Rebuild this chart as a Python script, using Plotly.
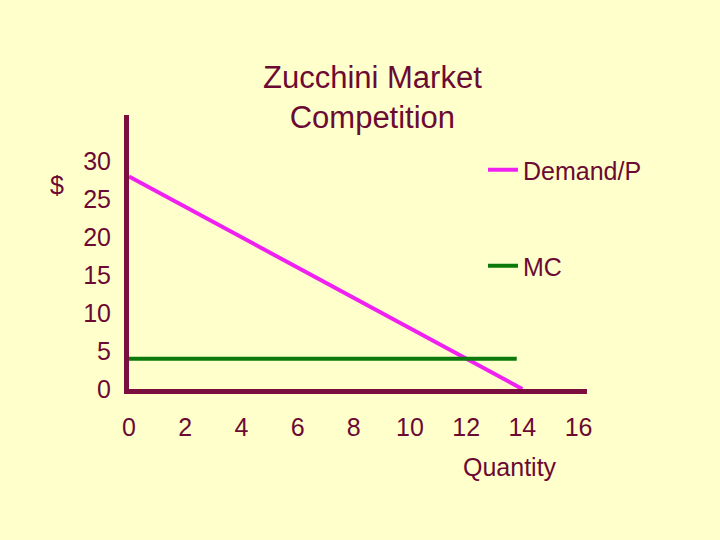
import plotly.graph_objects as go

demand_q = [0, 14]
demand_p = [28, 0]
mc_q = [0, 13.8]
mc_p = [4, 4]
x_ticks = [0, 2, 4, 6, 8, 10, 12, 14, 16]
y_ticks = [0, 5, 10, 15, 20, 25, 30]

TXT = "#6B0A33"
AX = "#7A0E3E"
BG = "#FFFFCC"
FONT = "Liberation Sans, Arial, sans-serif"

L, T, W, H = 129, 115, 458, 274


def px(x):
    return (x - L) / W


def py(y):
    return 1 - (y - T) / H


fig = go.Figure()
fig.add_trace(go.Scatter(x=demand_q, y=demand_p, mode="lines", name="Demand/P",
                         line=dict(color="#F020F0", width=4), legend="legend"))
fig.add_trace(go.Scatter(x=mc_q, y=mc_p, mode="lines", name="MC",
                         line=dict(color="#0B7A0B", width=4), legend="legend2"))

leg = dict(xref="paper", yref="paper", xanchor="left", yanchor="middle",
           bgcolor="rgba(0,0,0,0)", font=dict(family=FONT, size=25, color=TXT))
fig.update_layout(
    width=720, height=540, autosize=False,
    paper_bgcolor=BG, plot_bgcolor=BG,
    margin=dict(l=L, r=720 - L - W, t=T, b=540 - T - H, autoexpand=False),
    font=dict(family=FONT, size=25, color=TXT),
    showlegend=True,
    legend=dict(x=px(483), y=py(170), **leg),
    legend2=dict(x=px(483), y=py(266), **leg),
    xaxis=dict(range=[0, 16.3], tickvals=x_ticks, showgrid=False, zeroline=False,
               showline=True, linewidth=5, linecolor=AX, ticks="", ticklabelstandoff=12,
               tickfont=dict(size=25, color=TXT)),
    yaxis=dict(range=[0, 36.1], tickvals=y_ticks, showgrid=False, zeroline=False,
               showline=True, linewidth=5, linecolor=AX, ticks="", ticklabelstandoff=8,
               tickfont=dict(size=25, color=TXT)),
    annotations=[
        dict(text="Zucchini Market<br>Competition", xref="paper", yref="paper",
             x=px(372), y=py(97), xanchor="center", yanchor="middle",
             showarrow=False, font=dict(size=31, color=TXT, family=FONT)),
        dict(text="$", xref="paper", yref="paper", x=px(57), y=py(185),
             xanchor="center", yanchor="middle", showarrow=False,
             font=dict(size=25, color=TXT, family=FONT)),
        dict(text="Quantity", xref="paper", yref="paper", x=px(510), y=py(467),
             xanchor="center", yanchor="middle", showarrow=False,
             font=dict(size=25, color=TXT, family=FONT)),
    ],
)
fig.write_html("out.html", config={"displayModeBar": False},
               post_script="document.body.style.margin='0';")
